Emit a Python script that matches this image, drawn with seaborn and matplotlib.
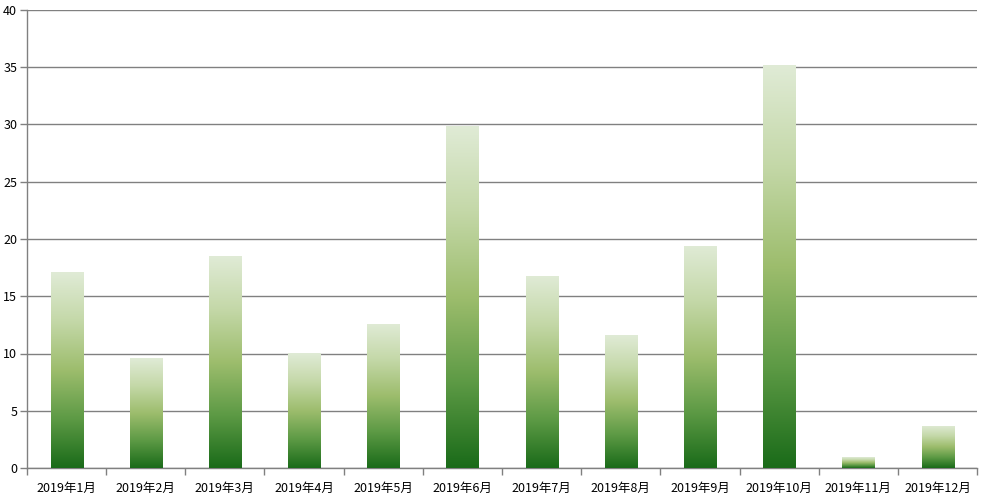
import numpy as np
import pandas as pd
import seaborn as sns
import matplotlib.pyplot as plt
from matplotlib.colors import LinearSegmentedColormap

sns.set_theme(style="white")
plt.rcParams['font.family'] = ['Noto Sans CJK SC', 'DejaVu Sans']

# Data
months = ["2019年1月", "2019年2月", "2019年3月", "2019年4月", "2019年5月", "2019年6月",
          "2019年7月", "2019年8月", "2019年9月", "2019年10月", "2019年11月", "2019年12月"]
values = [17.1, 9.6, 18.5, 10.0, 12.6, 29.9, 16.8, 11.6, 19.4, 35.2, 0.95, 3.7]
yticks = [0, 5, 10, 15, 20, 25, 30, 35, 40]

df = pd.DataFrame({"month": months, "value": values})

fig, ax = plt.subplots(figsize=(9.91, 5.0), dpi=100)
fig.subplots_adjust(left=0.0272, right=0.986, top=0.98, bottom=0.064)

sns.barplot(data=df, x="month", y="value", color="#6fa050", width=0.405,
            linewidth=0, ax=ax, zorder=3)

# gradient fill for each bar: dark green at bottom to pale at top
cmap = LinearSegmentedColormap.from_list(
    "grn", ["#1a6b19", "#5d9a45", "#9dbd6d", "#c4d8a8", "#e0ebd6"])
grad = np.linspace(0, 1, 256).reshape(-1, 1)
for p in ax.patches:
    x0, y0 = p.get_x(), p.get_y()
    w, h = p.get_width(), p.get_height()
    im = ax.imshow(grad, cmap=cmap, aspect="auto", origin="lower",
                   extent=(x0, x0 + w, y0, y0 + h), zorder=4)
    im.set_clip_path(p)
    p.set_alpha(0)

ax.set_xlim(-0.5, len(months) - 0.5)
ax.set_ylim(0, 40)
ax.set_yticks(yticks)
ax.set_xlabel("")
ax.set_ylabel("")

ax.yaxis.grid(True, color="#808080", linewidth=1)
ax.set_axisbelow(True)

for s in ["top", "right"]:
    ax.spines[s].set_visible(False)
for s in ["left", "bottom"]:
    ax.spines[s].set_color("#808080")
    ax.spines[s].set_linewidth(1)

ax.tick_params(axis="y", which="major", left=True, length=5, width=1,
               color="#808080", labelsize=9, labelcolor="black", pad=2)
ax.tick_params(axis="x", which="major", bottom=False, labelsize=9,
               labelcolor="black", pad=4)
ax.set_xticks(np.arange(-0.5, len(months), 1.0), minor=True)
ax.tick_params(axis="x", which="minor", bottom=True, length=5, width=1,
               color="#808080")

plt.savefig("out.png", dpi=100)
